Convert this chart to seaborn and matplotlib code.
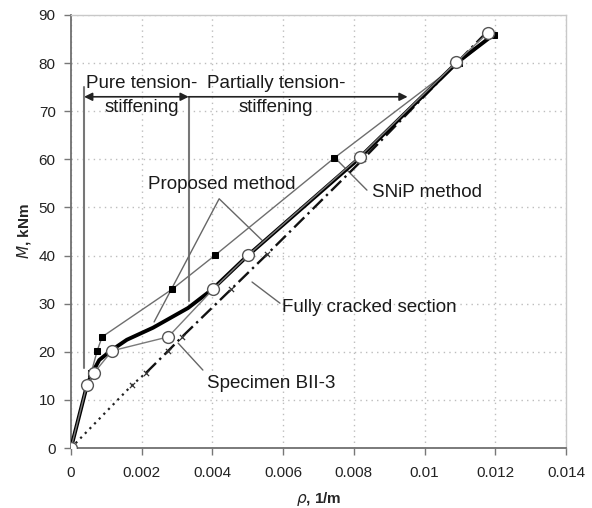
import numpy as np
import pandas as pd
import matplotlib
matplotlib.use("Agg")
import matplotlib.pyplot as plt
import seaborn as sns

# ---- data ----
snip_rho = [0, 0.00048, 0.00057, 0.00074, 0.00088, 0.00286, 0.00408, 0.00745, 0.01097, 0.01195]
snip_M = [0, 13.1, 15.6, 20.2, 23.1, 33.0, 40.1, 60.3, 80.0, 85.9]

spec_rho = [0, 0.00045, 0.00065, 0.00116, 0.00275, 0.00402, 0.00501, 0.00816, 0.0109, 0.01178]
spec_M = [0, 13.1, 15.6, 20.2, 23.1, 33.0, 40.1, 60.5, 80.2, 86.2]

prop_rho = [0, 0.00045, 0.00060, 0.00080, 0.00116, 0.00158, 0.00232, 0.00331, 0.00400, 0.00500, 0.00810, 0.01093, 0.01195]
prop_M = [0, 13.0, 15.6, 18.3, 20.4, 22.5, 25.0, 29.1, 33.0, 40.0, 59.9, 80.2, 85.9]

crack_rho = [0, 0.00173, 0.00212, 0.00275, 0.00314, 0.00453, 0.00555, 0.00827, 0.0109, 0.0117]
crack_M = [0, 13.1, 15.6, 20.2, 23.1, 33.0, 40.3, 60.1, 80.0, 86.0]
crack_dotted_end = 2  # dotted part up to this index

x_ticks = [0, 0.002, 0.004, 0.006, 0.008, 0.01, 0.012, 0.014]
x_tick_labels = ["0", "0.002", "0.004", "0.006", "0.008", "0.01", "0.012", "0.014"]
y_ticks = [0, 10, 20, 30, 40, 50, 60, 70, 80, 90]

sns.set_theme(style="white")
plt.rcParams['font.family'] = ['Liberation Sans', 'DejaVu Sans']

fig = plt.figure(figsize=(5.92, 5.08), dpi=100)
ax = fig.add_axes([71/592, 1-448/508, (566-71)/592, (448-15)/508])

df_snip = pd.DataFrame({"rho": snip_rho, "M": snip_M})
df_spec = pd.DataFrame({"rho": spec_rho, "M": spec_M})
df_prop = pd.DataFrame({"rho": prop_rho, "M": prop_M})
df_crack = pd.DataFrame({"rho": crack_rho, "M": crack_M})

# fully cracked section
sns.lineplot(data=df_crack.iloc[:crack_dotted_end + 1], x="rho", y="M", sort=False, estimator=None,
             ax=ax, color="#222222", lw=1.6, linestyle=(0, (1, 2)), zorder=3)
sns.lineplot(data=df_crack.iloc[crack_dotted_end:], x="rho", y="M", sort=False, estimator=None,
             ax=ax, color="#111111", lw=1.7, linestyle=(0, (6, 2, 1, 2)), zorder=3)
ax.scatter(df_crack["rho"][1:], df_crack["M"][1:], marker="x", s=14, color="#333333", lw=0.9, zorder=4)

# SNiP method
sns.lineplot(data=df_snip, x="rho", y="M", sort=False, estimator=None, ax=ax,
             color="#6e6e6e", lw=1.0, marker="s", markersize=4.5,
             markerfacecolor="black", markeredgecolor="black", zorder=4)

# proposed method (thick)
sns.lineplot(data=df_prop, x="rho", y="M", sort=False, estimator=None, ax=ax,
             color="black", lw=2.8, zorder=5)

# specimen
sns.lineplot(data=df_spec, x="rho", y="M", sort=False, estimator=None, ax=ax,
             color="#7a7a7a", lw=1.0, marker="o", markersize=8.5,
             markerfacecolor="white", markeredgecolor="#555555", markeredgewidth=1.0, zorder=6)

ax.set_xlim(0, 0.014)
ax.set_ylim(0, 90)
ax.set_xticks(x_ticks)
ax.set_xticklabels(x_tick_labels)
ax.set_yticks(y_ticks)
ax.tick_params(axis="both", direction="out", length=5, width=1, color="#777777",
               labelsize=11, labelcolor="#222222")
ax.tick_params(axis="x", pad=8)
ax.tick_params(axis="y", pad=6)
ax.tick_params(axis="both", which="both", bottom=True, left=True)
ax.grid(True, linestyle=(0, (1, 3)), color="#bdbdbd", lw=1.0)
for s in ["left", "bottom"]:
    ax.spines[s].set_color("#707070")
    ax.spines[s].set_linewidth(1.3)
for s in ["top", "right"]:
    ax.spines[s].set_color("#c8c8c8")
    ax.spines[s].set_linewidth(1.0)

ax.set_xlabel(r"$\rho$, 1/m", fontsize=11, fontweight="bold", labelpad=7)
ax.set_ylabel(r"$M$, kNm", fontsize=11, fontweight="bold", labelpad=4)

# region markers
gray = "#777777"
ax.plot([0.00037, 0.00037], [16.6, 75], color=gray, lw=1.5, zorder=2)
ax.plot([0.00333, 0.00333], [30.5, 73], color=gray, lw=1.5, zorder=2)
ax.annotate("", xy=(0.00037, 73), xytext=(0.00333, 73),
            arrowprops=dict(arrowstyle="<|-|>", color="#222222", lw=1.2, mutation_scale=12,
                            shrinkA=0, shrinkB=0))
ax.annotate("", xy=(0.00952, 73), xytext=(0.00333, 73),
            arrowprops=dict(arrowstyle="-|>", color="#222222", lw=1.2, mutation_scale=12,
                            shrinkA=0, shrinkB=0))

tfs = 13.5
tc = "#1a1a1a"
ax.text(0.00042, 75.7, "Pure tension-", fontsize=tfs, color=tc, ha="left", va="center")
ax.text(0.00201, 70.7, "stiffening", fontsize=tfs, color=tc, ha="center", va="center")
ax.text(0.00385, 75.7, "Partially tension-", fontsize=tfs, color=tc, ha="left", va="center")
ax.text(0.0058, 70.7, "stiffening", fontsize=tfs, color=tc, ha="center", va="center")
ax.text(0.00218, 54.7, "Proposed method", fontsize=tfs, color=tc, ha="left", va="center")
ax.text(0.00851, 53.2, "SNiP method", fontsize=tfs, color=tc, ha="left", va="center")
ax.text(0.00597, 29.1, "Fully cracked section", fontsize=tfs, color=tc, ha="left", va="center")
ax.text(0.00385, 13.5, "Specimen BII-3", fontsize=tfs, color=tc, ha="left", va="center")

# leader lines
lc = "#666666"
ax.plot([0.00235, 0.00419, 0.0054], [26.2, 51.8, 43.2], color=lc, lw=1.0, zorder=2)
ax.plot([0.00752, 0.00837], [59.9, 53.6], color=lc, lw=1.0, zorder=2)
ax.plot([0.00512, 0.00591], [34.5, 30.1], color=lc, lw=1.0, zorder=2)
ax.plot([0.00303, 0.00373], [21.8, 16.2], color=lc, lw=1.0, zorder=2)

fig.savefig("out.png", dpi=100)
